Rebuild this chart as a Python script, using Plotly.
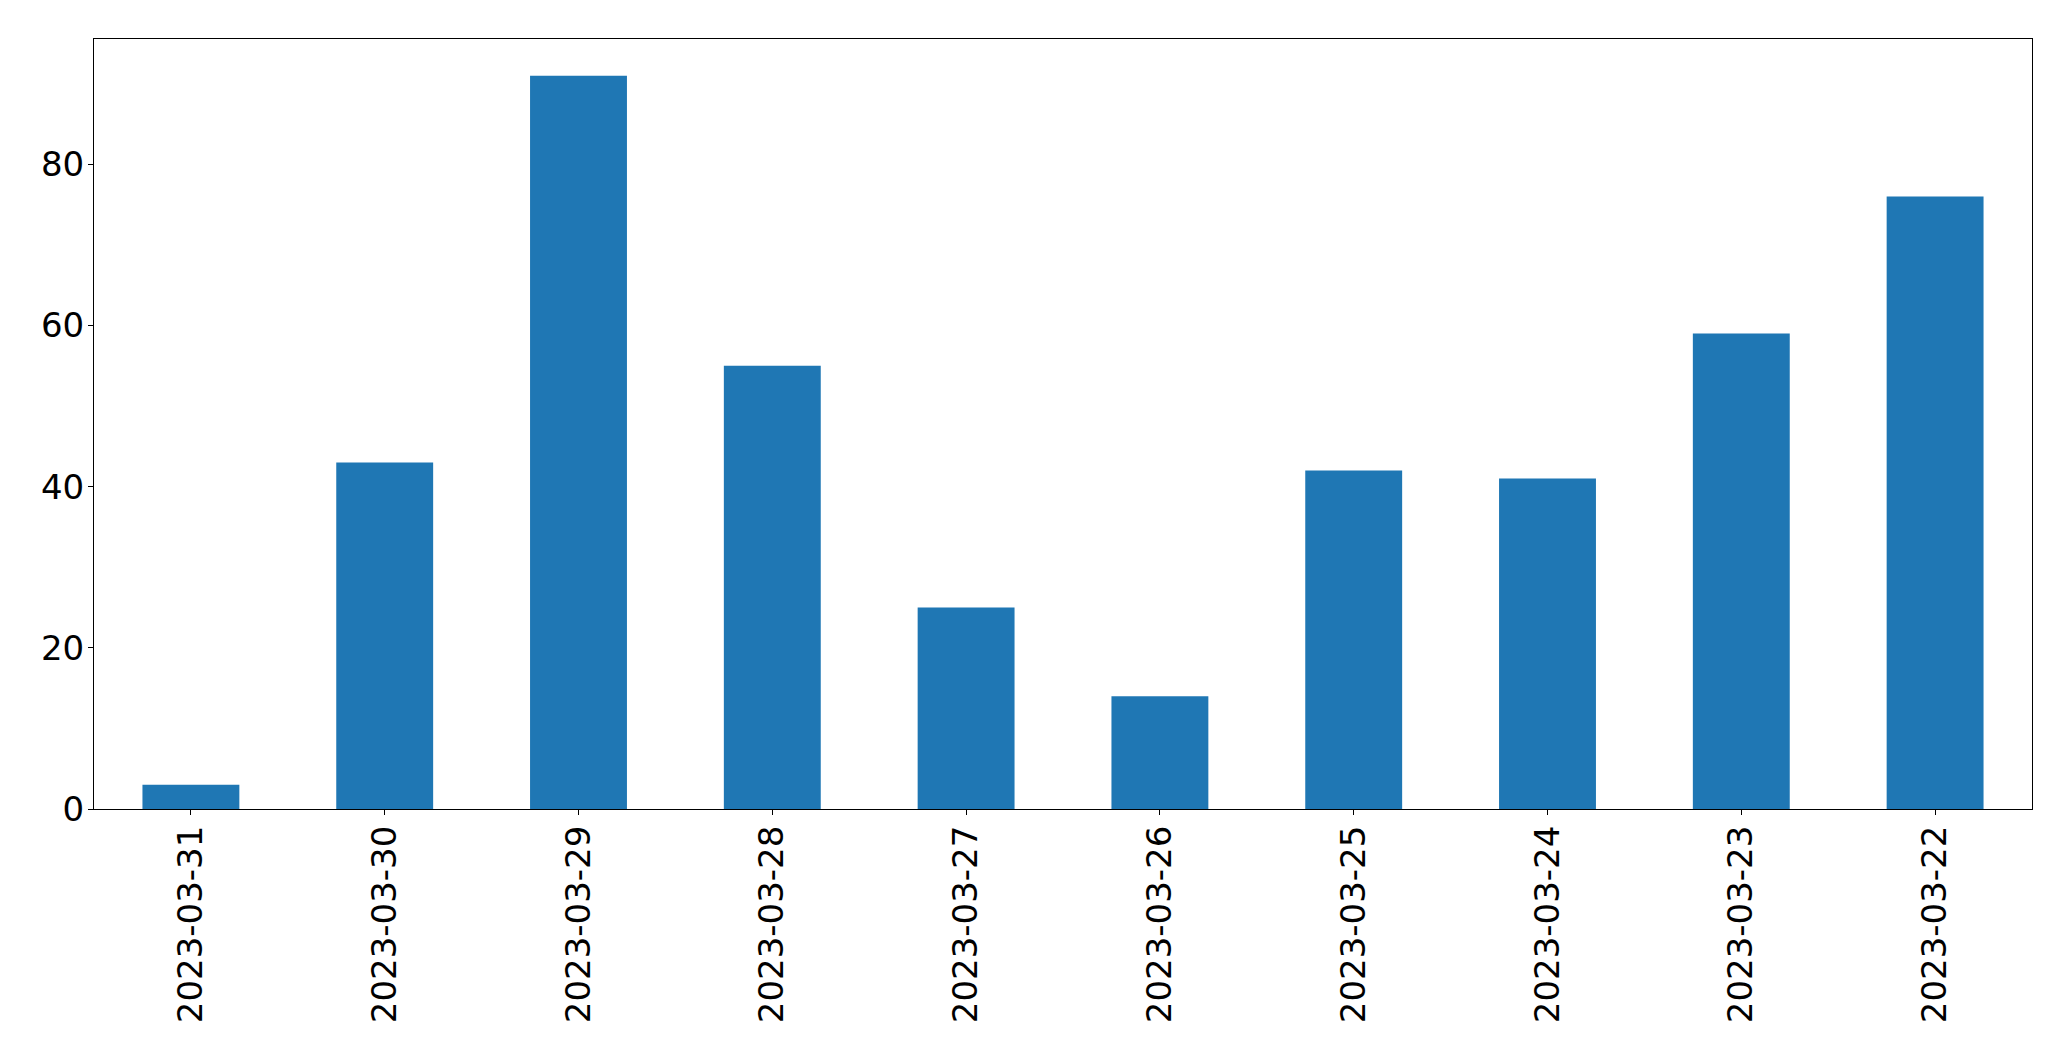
import plotly.graph_objects as go

dates = ["2023-03-31", "2023-03-30", "2023-03-29", "2023-03-28", "2023-03-27",
         "2023-03-26", "2023-03-25", "2023-03-24", "2023-03-23", "2023-03-22"]
values = [3, 43, 91, 55, 25, 14, 42, 41, 59, 76]
y_ticks = [0, 20, 40, 60, 80]

fig = go.Figure(go.Bar(x=dates, y=values, width=0.5, marker=dict(color="#1f77b4", line=dict(width=0))))

font = dict(family="DejaVu Sans", size=34, color="black")
fig.update_layout(
    width=2071, height=1061,
    margin=dict(l=94, r=39, t=39, b=252, autoexpand=False),
    paper_bgcolor="white", plot_bgcolor="white",
    showlegend=False,
    font=font,
)
fig.update_xaxes(
    type="category", range=[-0.5, len(dates) - 0.5],
    tickangle=-90, ticks="outside", ticklen=5, tickwidth=1.1, tickcolor="black",
    showline=True, linecolor="black", linewidth=1.1, mirror=True,
    showgrid=False, zeroline=False, tickfont=font, automargin=False,
    ticklabelstandoff=-3,
)
fig.update_yaxes(
    range=[0, max(values) * 1.05], tickvals=y_ticks,
    ticks="outside", ticklen=5, tickwidth=1.1, tickcolor="black",
    showline=True, linecolor="black", linewidth=1.1, mirror=True,
    showgrid=False, zeroline=False, tickfont=font, automargin=False,
    ticklabelstandoff=-3,
)
fig.write_html("out.html")
